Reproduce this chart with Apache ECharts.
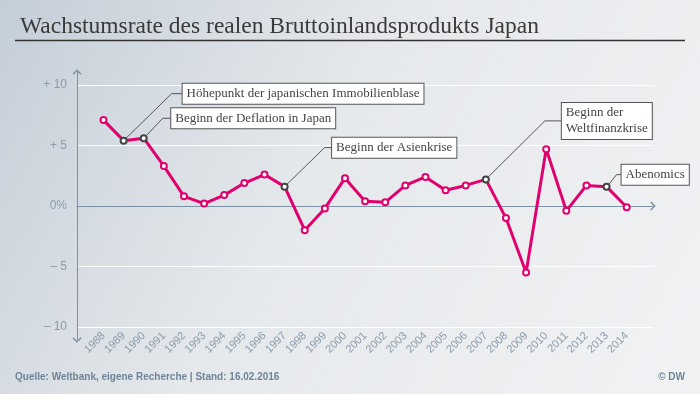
<!DOCTYPE html>
<html>
<head>
<meta charset="utf-8">
<script src="https://cdn.jsdelivr.net/npm/echarts@6/dist/echarts.min.js"></script>
<style>html,body{margin:0;padding:0;background:#fff}#c{width:700px;height:394px}</style>
</head>
<body>
<div id="c"></div>
<script>
// ---- data ----
const years = ['1988','1989','1990','1991','1992','1993','1994','1995','1996','1997','1998','1999','2000','2001','2002','2003','2004','2005','2006','2007','2008','2009','2010','2011','2012','2013','2014'];
const growth = [7.1, 5.4, 5.6, 3.3, 0.8, 0.2, 0.9, 1.9, 2.6, 1.6, -2.0, -0.2, 2.3, 0.4, 0.3, 1.7, 2.4, 1.3, 1.7, 2.2, -1.0, -5.5, 4.7, -0.4, 1.7, 1.6, -0.1];
const yTicks = [-10, -5, 0, 5, 10];
const yTickLabels = ['\u2013 10', '\u2013 5', '0%', '+ 5', '+ 10'];
const annotYears = ['1989', '1990', '1997', '2007', '2013'];
const annotTexts = ['Höhepunkt der japanischen Immobilienblase', 'Beginn der Deflation in Japan', 'Beginn der Asienkrise', 'Beginn der\nWeltfinanzkrise', 'Abenomics'];
const titleText = 'Wachstumsrate des realen Bruttoinlandsprodukts Japan';
const sourceText = 'Quelle: Weltbank, eigene Recherche | Stand: 16.02.2016';
const creditText = '\u00a9 DW';

// ---- styling / layout (not data) ----
const MAG = '#e0006e';
const AX = '#7d91a4';
const LBL = '#8b9cac';
const chevron = 'path://M0,6 L6,0 L12,6 L10.6,7.4 L6,2.8 L1.4,7.4 Z';
// leader geometry offsets per annotation: [elbow dx, elbow dy, box left dx]
const leaderGeom = [[48, -47, 59], [19, -20, 27.5], [40, -39, 47.5], [59, -58.5, 76], [10, -12, 15]];

const chart = echarts.init(document.getElementById('c'), null, {renderer: 'canvas'});

const seriesData = growth.map((v, i) => {
  const hl = annotYears.indexOf(years[i]) >= 0;
  return hl ? {value: v, itemStyle: {borderColor: '#444'}} : v;
});

const option = {
  animation: false,
  backgroundColor: {type: 'linear', x: 0, y: 0, x2: 1, y2: 1,
    colorStops: [{offset: 0, color: '#c4ced8'}, {offset: 0.45, color: '#e6e9ec'}, {offset: 1, color: '#f1f2f4'}]},
  title: {text: titleText, left: 15, top: 10,
    textStyle: {fontFamily: 'Liberation Serif', fontWeight: 'normal', fontSize: 23.5, color: '#3a3a3a'}},
  grid: [
    {left: 77, right: 47, top: 85, bottom: 67},
    {left: 103.5, right: 73.3, top: 85, bottom: 67},
    {left: 77, right: 47, top: 72, bottom: 54}
  ],
  xAxis: [
    {gridIndex: 0, type: 'value', min: 0, max: 1, axisLabel: {show: false}, axisTick: {show: false}, splitLine: {show: false},
      axisLine: {show: true, onZero: true, symbol: ['none', chevron], symbolSize: [9, 6], lineStyle: {color: AX, width: 1}}},
    {gridIndex: 1, type: 'category', data: years, boundaryGap: false,
      axisLine: {show: false}, axisTick: {show: false}, splitLine: {show: false},
      axisLabel: {interval: 0, rotate: 45, margin: 7, color: LBL, fontFamily: 'Liberation Sans', fontSize: 11}},
    {gridIndex: 2, type: 'value', show: false, min: 0, max: 1}
  ],
  yAxis: [
    {gridIndex: 0, type: 'value', min: yTicks[0], max: yTicks[yTicks.length - 1], interval: 5,
      axisLine: {show: false}, axisTick: {show: false},
      splitLine: {show: true, lineStyle: {color: '#ffffff', width: 1}},
      axisLabel: {margin: 10, color: LBL, fontFamily: 'Liberation Sans', fontSize: 12,
        formatter: v => { const k = yTicks.indexOf(v); return k >= 0 ? yTickLabels[k] : ''; }}},
    {gridIndex: 1, type: 'value', min: yTicks[0], max: yTicks[yTicks.length - 1], show: false},
    {gridIndex: 2, type: 'value', min: 0, max: 1, axisLabel: {show: false}, axisTick: {show: false}, splitLine: {show: false},
      axisLine: {show: true, symbol: [chevron, chevron], symbolSize: [9, 6], lineStyle: {color: AX, width: 1}}}
  ],
  series: [{
    type: 'line', xAxisIndex: 1, yAxisIndex: 1, data: seriesData,
    symbol: 'circle', symbolSize: 6, z: 5,
    lineStyle: {color: MAG, width: 3},
    itemStyle: {color: '#ffffff', borderColor: MAG, borderWidth: 2}
  }]
};
chart.setOption(option);

// annotations positioned relative to data points via the library's scale
const g = [];
annotYears.forEach((yr, k) => {
  const i = years.indexOf(yr);
  const p = chart.convertToPixel({gridIndex: 1}, [i, growth[i]]);
  const [dx, dy, bx] = leaderGeom[k];
  const ex = p[0] + dx, ey = p[1] + dy;
  g.push({type: 'polyline', z: 10, shape: {points: [[p[0] + 2, p[1] - 2], [ex, ey], [p[0] + bx, ey]]},
    style: {stroke: '#555', lineWidth: 1, fill: null}});
  g.push({type: 'text', z: 11, x: p[0] + bx, y: ey,
    style: {text: annotTexts[k], font: '13px "Liberation Serif"', fill: '#444', align: 'left', verticalAlign: 'middle',
      lineHeight: 16, backgroundColor: '#ffffff', borderColor: '#555', borderWidth: 1, padding: [2, 4, 2, 4]}});
});
g.push({type: 'line', shape: {x1: 15, y1: 40.5, x2: 685, y2: 40.5}, style: {stroke: '#333', lineWidth: 1.3}});
g.push({type: 'text', x: 15, y: 377, style: {text: sourceText, font: 'bold 10px "Liberation Sans"', fill: '#6e8498', verticalAlign: 'middle'}});
g.push({type: 'text', x: 685, y: 377, style: {text: creditText, font: 'bold 10px "Liberation Sans"', fill: '#6e8498', align: 'right', verticalAlign: 'middle'}});
chart.setOption({graphic: g});
</script>
</body>
</html>
